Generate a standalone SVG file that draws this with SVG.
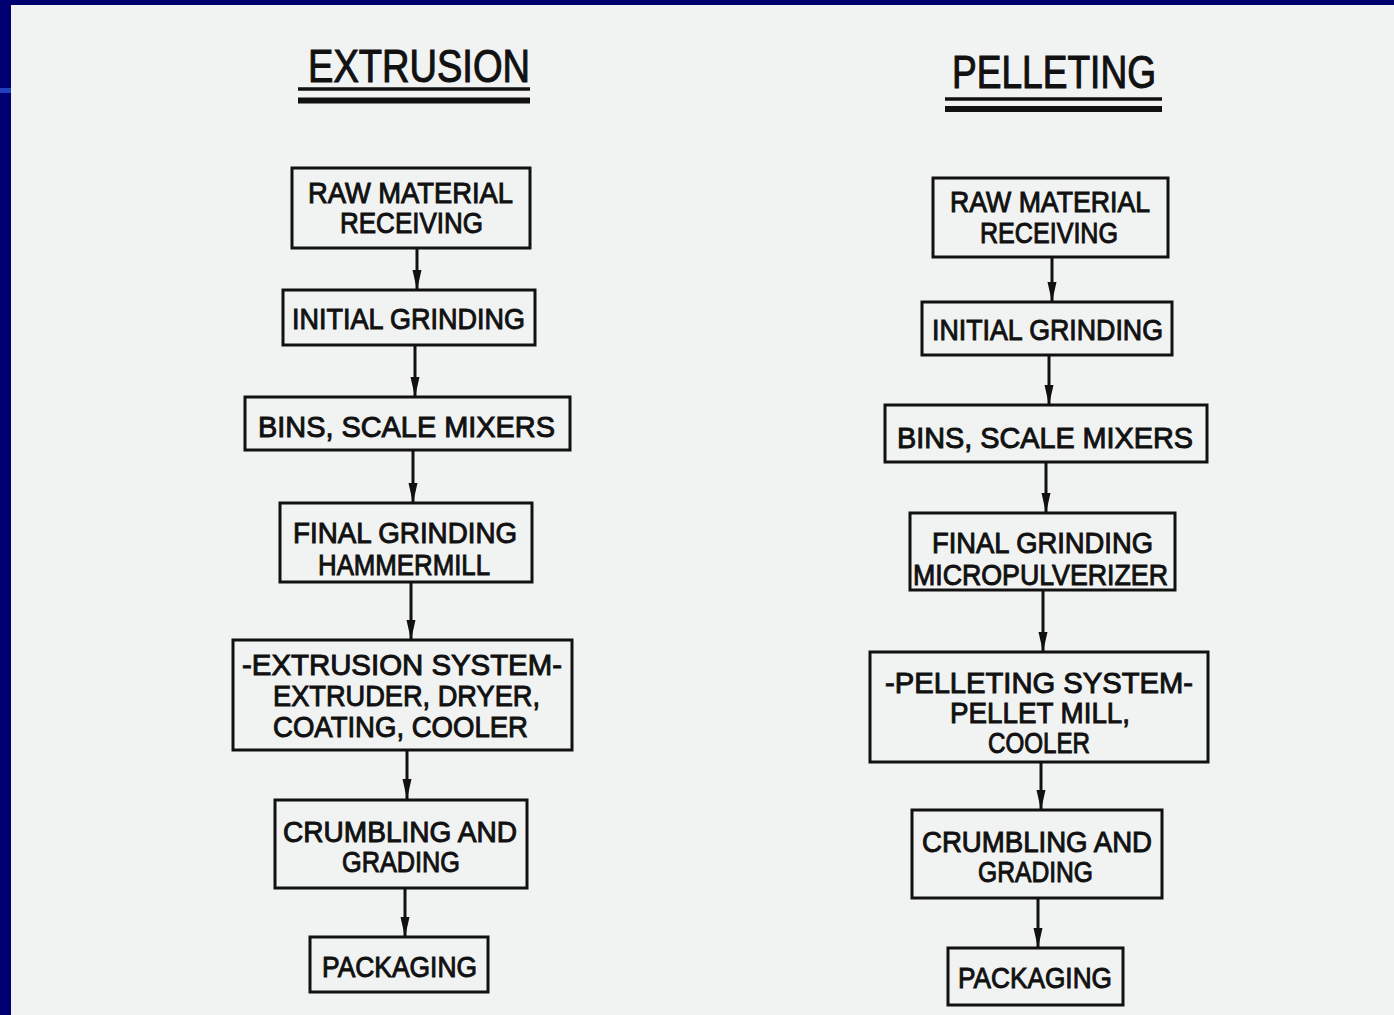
<svg xmlns="http://www.w3.org/2000/svg" width="1394" height="1015" viewBox="0 0 1394 1015">
<style>
.bg{fill:#f1f3f3}
.box{fill:none;stroke:#111;stroke-width:3}
.t{font-family:"Liberation Sans",Arial,sans-serif;font-size:30px;fill:#111;stroke:#111;stroke-width:1}
.title{font-family:"Liberation Sans",Arial,sans-serif;font-size:46px;fill:#111;stroke:#111;stroke-width:1.1}
.c{stroke:#111;stroke-width:3;fill:none}
</style>
<defs>
<marker id="ah" viewBox="0 0 20 10" refX="20" refY="5" markerWidth="20" markerHeight="10" markerUnits="userSpaceOnUse" orient="auto">
<path d="M0,0.5 L20,5 L0,9.5 z" fill="#111"/>
</marker>
</defs>
<rect x="0" y="0" width="1394" height="1015" fill="#000070"/>
<rect class="bg" x="11" y="5" width="1383" height="1010"/>
<rect x="0" y="88" width="11" height="5" fill="#2040c0"/>

<g id="title-extrusion">
<text class="title" x="308" y="82" textLength="222" lengthAdjust="spacingAndGlyphs">EXTRUSION</text>
<line x1="298" y1="89" x2="530" y2="89" stroke="#111" stroke-width="3.5"/>
<line x1="298" y1="100.5" x2="530" y2="100.5" stroke="#111" stroke-width="6"/>
</g>
<g id="title-pelleting">
<text class="title" x="952" y="88" textLength="204" lengthAdjust="spacingAndGlyphs">PELLETING</text>
<line x1="945" y1="99" x2="1162" y2="99" stroke="#111" stroke-width="3.5"/>
<line x1="945" y1="109" x2="1162" y2="109" stroke="#111" stroke-width="6"/>
</g>

<g id="connectors">
<line class="c" x1="417" y1="248" x2="417" y2="290" marker-end="url(#ah)"/>
<line class="c" x1="415" y1="345" x2="415" y2="397" marker-end="url(#ah)"/>
<line class="c" x1="413" y1="450" x2="413" y2="503" marker-end="url(#ah)"/>
<line class="c" x1="411" y1="582" x2="411" y2="640" marker-end="url(#ah)"/>
<line class="c" x1="407" y1="750" x2="407" y2="799" marker-end="url(#ah)"/>
<line class="c" x1="405" y1="888" x2="405" y2="937" marker-end="url(#ah)"/>
<line class="c" x1="1052" y1="257" x2="1052" y2="302" marker-end="url(#ah)"/>
<line class="c" x1="1049" y1="355" x2="1049" y2="405" marker-end="url(#ah)"/>
<line class="c" x1="1046" y1="462" x2="1046" y2="513" marker-end="url(#ah)"/>
<line class="c" x1="1043" y1="590" x2="1043" y2="652" marker-end="url(#ah)"/>
<line class="c" x1="1041" y1="762" x2="1041" y2="810" marker-end="url(#ah)"/>
<line class="c" x1="1038" y1="898" x2="1038" y2="948" marker-end="url(#ah)"/>
</g>

<g id="ext-raw">
<rect class="box" x="292" y="168" width="238" height="80"/>
<text class="t" x="308" y="203" textLength="205" lengthAdjust="spacingAndGlyphs">RAW MATERIAL</text>
<text class="t" x="340" y="233" textLength="143" lengthAdjust="spacingAndGlyphs">RECEIVING</text>
</g>
<g id="ext-initial">
<rect class="box" x="283" y="290" width="252" height="55"/>
<text class="t" x="292" y="329" textLength="233" lengthAdjust="spacingAndGlyphs">INITIAL GRINDING</text>
</g>
<g id="ext-bins">
<rect class="box" x="245" y="397" width="325" height="53"/>
<text class="t" x="258" y="437" textLength="297" lengthAdjust="spacingAndGlyphs">BINS, SCALE MIXERS</text>
</g>
<g id="ext-final">
<rect class="box" x="280" y="503" width="252" height="79"/>
<text class="t" x="293" y="543" textLength="224" lengthAdjust="spacingAndGlyphs">FINAL GRINDING</text>
<text class="t" x="318" y="575" textLength="172" lengthAdjust="spacingAndGlyphs">HAMMERMILL</text>
</g>
<g id="ext-system">
<rect class="box" x="233" y="640" width="339" height="110"/>
<text class="t" x="242" y="675" textLength="320" lengthAdjust="spacingAndGlyphs">-EXTRUSION SYSTEM-</text>
<text class="t" x="273" y="706" textLength="267" lengthAdjust="spacingAndGlyphs">EXTRUDER, DRYER,</text>
<text class="t" x="273" y="737" textLength="255" lengthAdjust="spacingAndGlyphs">COATING, COOLER</text>
</g>
<g id="ext-crumbling">
<rect class="box" x="275" y="800" width="252" height="88"/>
<text class="t" x="283" y="842" textLength="234" lengthAdjust="spacingAndGlyphs">CRUMBLING AND</text>
<text class="t" x="342" y="872" textLength="118" lengthAdjust="spacingAndGlyphs">GRADING</text>
</g>
<g id="ext-packaging">
<rect class="box" x="310" y="937" width="178" height="55"/>
<text class="t" x="322" y="977" textLength="155" lengthAdjust="spacingAndGlyphs">PACKAGING</text>
</g>

<g id="pel-raw">
<rect class="box" x="933" y="178" width="235" height="79"/>
<text class="t" x="950" y="212" textLength="200" lengthAdjust="spacingAndGlyphs">RAW MATERIAL</text>
<text class="t" x="980" y="243" textLength="138" lengthAdjust="spacingAndGlyphs">RECEIVING</text>
</g>
<g id="pel-initial">
<rect class="box" x="922" y="302" width="250" height="53"/>
<text class="t" x="932" y="340" textLength="231" lengthAdjust="spacingAndGlyphs">INITIAL GRINDING</text>
</g>
<g id="pel-bins">
<rect class="box" x="885" y="405" width="322" height="57"/>
<text class="t" x="897" y="448" textLength="296" lengthAdjust="spacingAndGlyphs">BINS, SCALE MIXERS</text>
</g>
<g id="pel-final">
<rect class="box" x="910" y="513" width="265" height="77"/>
<text class="t" x="932" y="553" textLength="221" lengthAdjust="spacingAndGlyphs">FINAL GRINDING</text>
<text class="t" x="913" y="585" textLength="255" lengthAdjust="spacingAndGlyphs">MICROPULVERIZER</text>
</g>
<g id="pel-system">
<rect class="box" x="870" y="652" width="338" height="110"/>
<text class="t" x="885" y="693" textLength="308" lengthAdjust="spacingAndGlyphs">-PELLETING SYSTEM-</text>
<text class="t" x="950" y="723" textLength="180" lengthAdjust="spacingAndGlyphs">PELLET MILL,</text>
<text class="t" x="988" y="753" textLength="102" lengthAdjust="spacingAndGlyphs">COOLER</text>
</g>
<g id="pel-crumbling">
<rect class="box" x="912" y="810" width="250" height="88"/>
<text class="t" x="922" y="852" textLength="230" lengthAdjust="spacingAndGlyphs">CRUMBLING AND</text>
<text class="t" x="978" y="882" textLength="115" lengthAdjust="spacingAndGlyphs">GRADING</text>
</g>
<g id="pel-packaging">
<rect class="box" x="948" y="948" width="175" height="57"/>
<text class="t" x="958" y="988" textLength="154" lengthAdjust="spacingAndGlyphs">PACKAGING</text>
</g>
</svg>
